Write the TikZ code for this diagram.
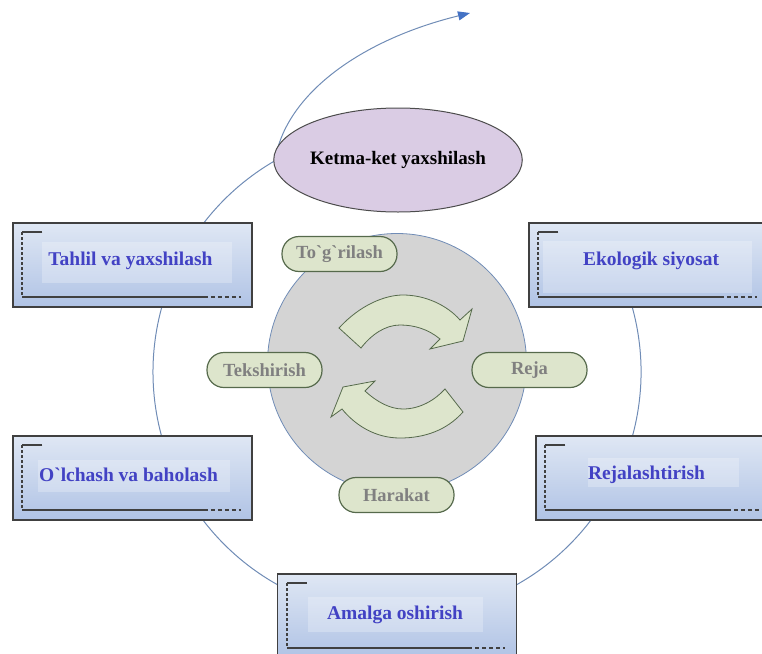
\documentclass[tikz,border=0pt]{standalone}
\usepackage{fontspec}
\setmainfont{Liberation Serif}
\usetikzlibrary{arrows.meta,shapes.geometric}

\definecolor{ringline}{RGB}{112,140,182}
\definecolor{tipblue}{RGB}{68,114,196}
\definecolor{hubgray}{RGB}{212,212,212}
\definecolor{sage}{RGB}{221,229,204}
\definecolor{sageline}{RGB}{86,106,76}
\definecolor{boxtop}{RGB}{223,231,244}
\definecolor{boxbot}{RGB}{176,195,229}
\definecolor{boxtext}{RGB}{66,66,196}
\definecolor{lilac}{RGB}{218,204,228}

\tikzset{
  listbox/.style={draw=black!75, line width=1.5pt, top color=boxtop, bottom color=boxbot,
    minimum width=239pt, minimum height=84pt, inner sep=0pt},
  boxlabel/.style={text=boxtext, font=\fontsize{19.5}{22}\selectfont\bfseries},
  pill/.style={draw=sageline, line width=1.2pt, fill=sage, rounded corners=17pt,
    minimum width=115pt, minimum height=35pt, inner sep=0pt, text=black!50,
    font=\fontsize{18.5}{22}\selectfont\bfseries},
  turn/.style={draw=sageline, line width=0.8pt, fill=sage},
  glow/.style={fill=white, fill opacity=0.25},
  rim/.style={black!75, line width=1.8pt},
}

\begin{document}
\begin{tikzpicture}[x=1pt,y=-1pt]
\useasboundingbox (0,0) rectangle (762,653);
\clip (0,0) rectangle (762,653);
\coordinate (goal) at (470,13);
\draw[ringline, line width=1pt] (397,372) ++(-20:244) arc[start angle=-20, end angle=240, radius=244] coordinate (bend);
\draw[ringline, line width=1pt, -{Triangle[length=12pt, width=9pt, color=tipblue]}] (bend) .. controls (285,95) and (360,40) .. (goal);

\node[circle, minimum size=259pt, inner sep=0pt, fill=hubgray, draw=ringline, line width=0.8pt] (hub) at (397,363) {};
\filldraw[turn] (339,328) .. controls (360,305) and (385,295) .. (403,295) .. controls (425,295) and (447,305) .. (460,320)
  -- (472,309) -- (463,341) -- (430,349) -- (440,339) .. controls (428,329) and (414,325) .. (400,325)
  .. controls (385,325) and (371,335) .. (361,348) -- cycle;
\filldraw[turn] (463,412) .. controls (447,430) and (425,438) .. (400,438) .. controls (375,438) and (355,425) .. (342,409)
  -- (331,417) -- (343,387) -- (375,381) -- (365,391) .. controls (377,402) and (390,409) .. (403,409)
  .. controls (420,409) and (435,400) .. (445,389) -- cycle;

\node[pill] (togri) at (339.5,254) {To\textasciigrave g\textasciigrave rilash};
\node[pill] (teksh) at (264.5,370) {Tekshirish};
\node[pill] (reja) at (529.5,370) {Reja};
\node[pill] (harakat) at (396.5,495) {Harakat};

\node[listbox] (tahlil) at (132.5,265) {};
\node[listbox] (ekolog) at (648.5,265) {};
\node[listbox] (olchash) at (132.5,478) {};
\node[listbox] (rejal) at (655.5,478) {};
\node[listbox] (amalga) at (397,616) {};
\fill[glow] (42,242) rectangle (232,283);
\fill[glow] (543,241) rectangle (752,293);
\fill[glow] (38,460) rectangle (230,492);
\fill[glow] (588,458) rectangle (739,487);
\fill[glow] (308,597) rectangle (483,632);
\foreach \b in {tahlil,ekolog,olchash,rejal,amalga}{
  \draw[rim] ([xshift=30pt,yshift=-10pt]\b.north west) -- ([xshift=10pt,yshift=-10pt]\b.north west);
  \draw[rim, dash pattern=on 3pt off 2pt] ([xshift=10pt,yshift=-10pt]\b.north west) -- ([xshift=10pt,yshift=11pt]\b.south west);
  \draw[rim, line width=2.2pt] ([xshift=10pt,yshift=11pt]\b.south west) -- ([xshift=-49pt,yshift=11pt]\b.south east);
  \draw[rim, dash pattern=on 4pt off 3pt] ([xshift=-49pt,yshift=11pt]\b.south east) -- ([xshift=-12pt,yshift=11pt]\b.south east);
}
\node[boxlabel] (tahlil-t) at (130.5,260.5) {Tahlil va yaxshilash};
\node[boxlabel] (ekolog-t) at (651,260.5) {Ekologik siyosat};
\node[boxlabel] (olchash-t) at (128.5,475) {O\textasciigrave lchash va baholash};
\node[boxlabel] (rejal-t) at (646.5,475) {Rejalashtirish};
\node[boxlabel] (amalga-t) at (395,615) {Amalga oshirish};

\node[ellipse, draw=black!70, line width=1pt, fill=lilac, minimum width=237pt, minimum height=104pt, inner sep=0pt,
  font=\fontsize{19}{22}\selectfont\bfseries] (ketma) at (398,160) {Ketma-ket yaxshilash};
\end{tikzpicture}
\end{document}
